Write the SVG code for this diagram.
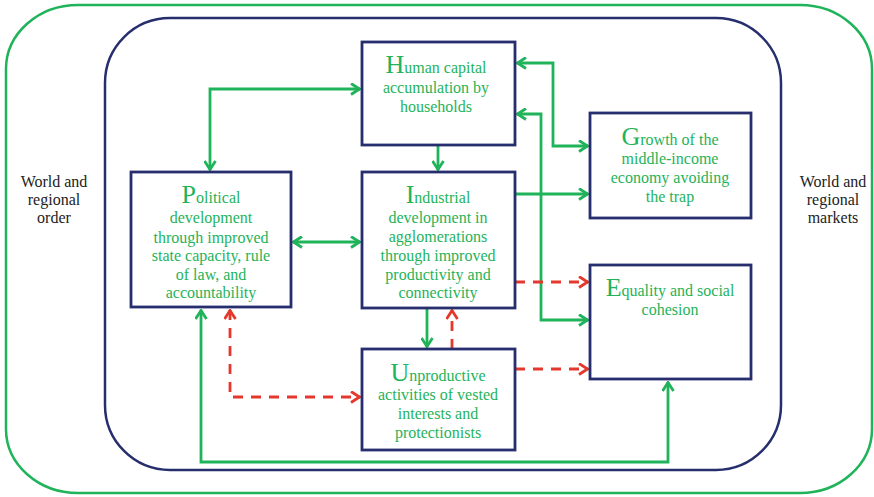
<svg xmlns="http://www.w3.org/2000/svg" width="874" height="497" viewBox="0 0 874 497">
<style>
.box{fill:#fff;stroke:#262e6e;stroke-width:2.8}
.t{font-family:"Liberation Serif","Times New Roman",serif;font-size:16px;fill:#1fb35a;text-anchor:middle}
.t .c{font-size:26px}
.w{font-family:"Liberation Serif","Times New Roman",serif;font-size:16px;fill:#222;text-anchor:middle}
.g{fill:none;stroke:#1fb35a;stroke-width:2.8}
.r{fill:none;stroke:#e5382d;stroke-width:2.8;stroke-dasharray:10 8}
</style>
<defs>
<marker id="ag" viewBox="0 0 11 13" refX="10" refY="6.5" markerWidth="11" markerHeight="13" markerUnits="userSpaceOnUse" orient="auto-start-reverse">
<path d="M1,1 L9.5,6.5 L1,12" fill="none" stroke="#1fb35a" stroke-width="2.8"/>
</marker>
<marker id="ar" viewBox="0 0 11 13" refX="10" refY="6.5" markerWidth="11" markerHeight="13" markerUnits="userSpaceOnUse" orient="auto-start-reverse">
<path d="M1,1 L9.5,6.5 L1,12" fill="none" stroke="#e5382d" stroke-width="2.8"/>
</marker>
</defs>
<rect id="outer" x="6" y="5" width="866" height="488" rx="72" ry="64" fill="none" stroke="#1fb35a" stroke-width="2.5"/>
<rect id="inner" x="105" y="18" width="676" height="452" rx="65" ry="65" fill="none" stroke="#262e6e" stroke-width="2.5"/>
<g id="order"><text class="w" x="54" y="187">World and</text><text class="w" x="54" y="205">regional</text><text class="w" x="54" y="223">order</text></g>
<g id="markets"><text class="w" x="833" y="187">World and</text><text class="w" x="833" y="205">regional</text><text class="w" x="833" y="223">markets</text></g>
<g id="connectors">
<path class="g" d="M210,170 V89 H360" marker-start="url(#ag)" marker-end="url(#ag)"/>
<path class="g" d="M438,145 V170" marker-end="url(#ag)"/>
<path class="g" d="M293,242 H360" marker-start="url(#ag)" marker-end="url(#ag)"/>
<path class="g" d="M517,63 H553 V146 H588" marker-start="url(#ag)" marker-end="url(#ag)"/>
<path class="g" d="M517,114 H541 V320 H588" marker-start="url(#ag)" marker-end="url(#ag)"/>
<path class="g" d="M515,194 H588" marker-end="url(#ag)"/>
<path class="r" d="M515,282 H588" marker-end="url(#ar)"/>
<path class="g" d="M427,308 V347" marker-end="url(#ag)"/>
<path class="r" d="M452,349 V310" marker-end="url(#ar)"/>
<path class="r" d="M515,369 H588" marker-end="url(#ar)"/>
<path class="r" d="M230,310 V397 H360" marker-start="url(#ar)" marker-end="url(#ar)"/>
<path class="g" d="M201,310 V462 H668 V382" marker-start="url(#ag)" marker-end="url(#ag)"/>
</g>
<g id="human"><rect class="box" x="362" y="42" width="153" height="103"/>
<text class="t" x="436" y="73"><tspan class="c">H</tspan>uman capital</text><text class="t" x="436" y="93">accumulation by</text><text class="t" x="436" y="112">households</text></g>
<g id="political"><rect class="box" x="131" y="172" width="160" height="135"/>
<text class="t" x="211" y="203"><tspan class="c">P</tspan>olitical</text><text class="t" x="211" y="223">development</text><text class="t" x="211" y="243">through improved</text><text class="t" x="211" y="261">state capacity, rule</text><text class="t" x="211" y="280">of law, and</text><text class="t" x="211" y="298">accountability</text></g>
<g id="industrial"><rect class="box" x="362" y="172" width="153" height="136"/>
<text class="t" x="438" y="203"><tspan class="c">I</tspan>ndustrial</text><text class="t" x="438" y="223">development in</text><text class="t" x="438" y="242">agglomerations</text><text class="t" x="438" y="261">through improved</text><text class="t" x="438" y="280">productivity and</text><text class="t" x="438" y="298">connectivity</text></g>
<g id="growth"><rect class="box" x="590" y="113" width="161" height="105"/>
<text class="t" x="670" y="145"><tspan class="c">G</tspan>rowth of the</text><text class="t" x="670" y="164">middle-income</text><text class="t" x="670" y="183">economy avoiding</text><text class="t" x="670" y="202">the trap</text></g>
<g id="equality"><rect class="box" x="590" y="265" width="161" height="114"/>
<text class="t" x="670" y="296"><tspan class="c">E</tspan>quality and social</text><text class="t" x="670" y="315">cohesion</text></g>
<g id="unproductive"><rect class="box" x="362" y="349" width="153" height="101"/>
<text class="t" x="438" y="381"><tspan class="c">U</tspan>nproductive</text><text class="t" x="438" y="400">activities of vested</text><text class="t" x="438" y="419">interests and</text><text class="t" x="438" y="438">protectionists</text></g>
</svg>
